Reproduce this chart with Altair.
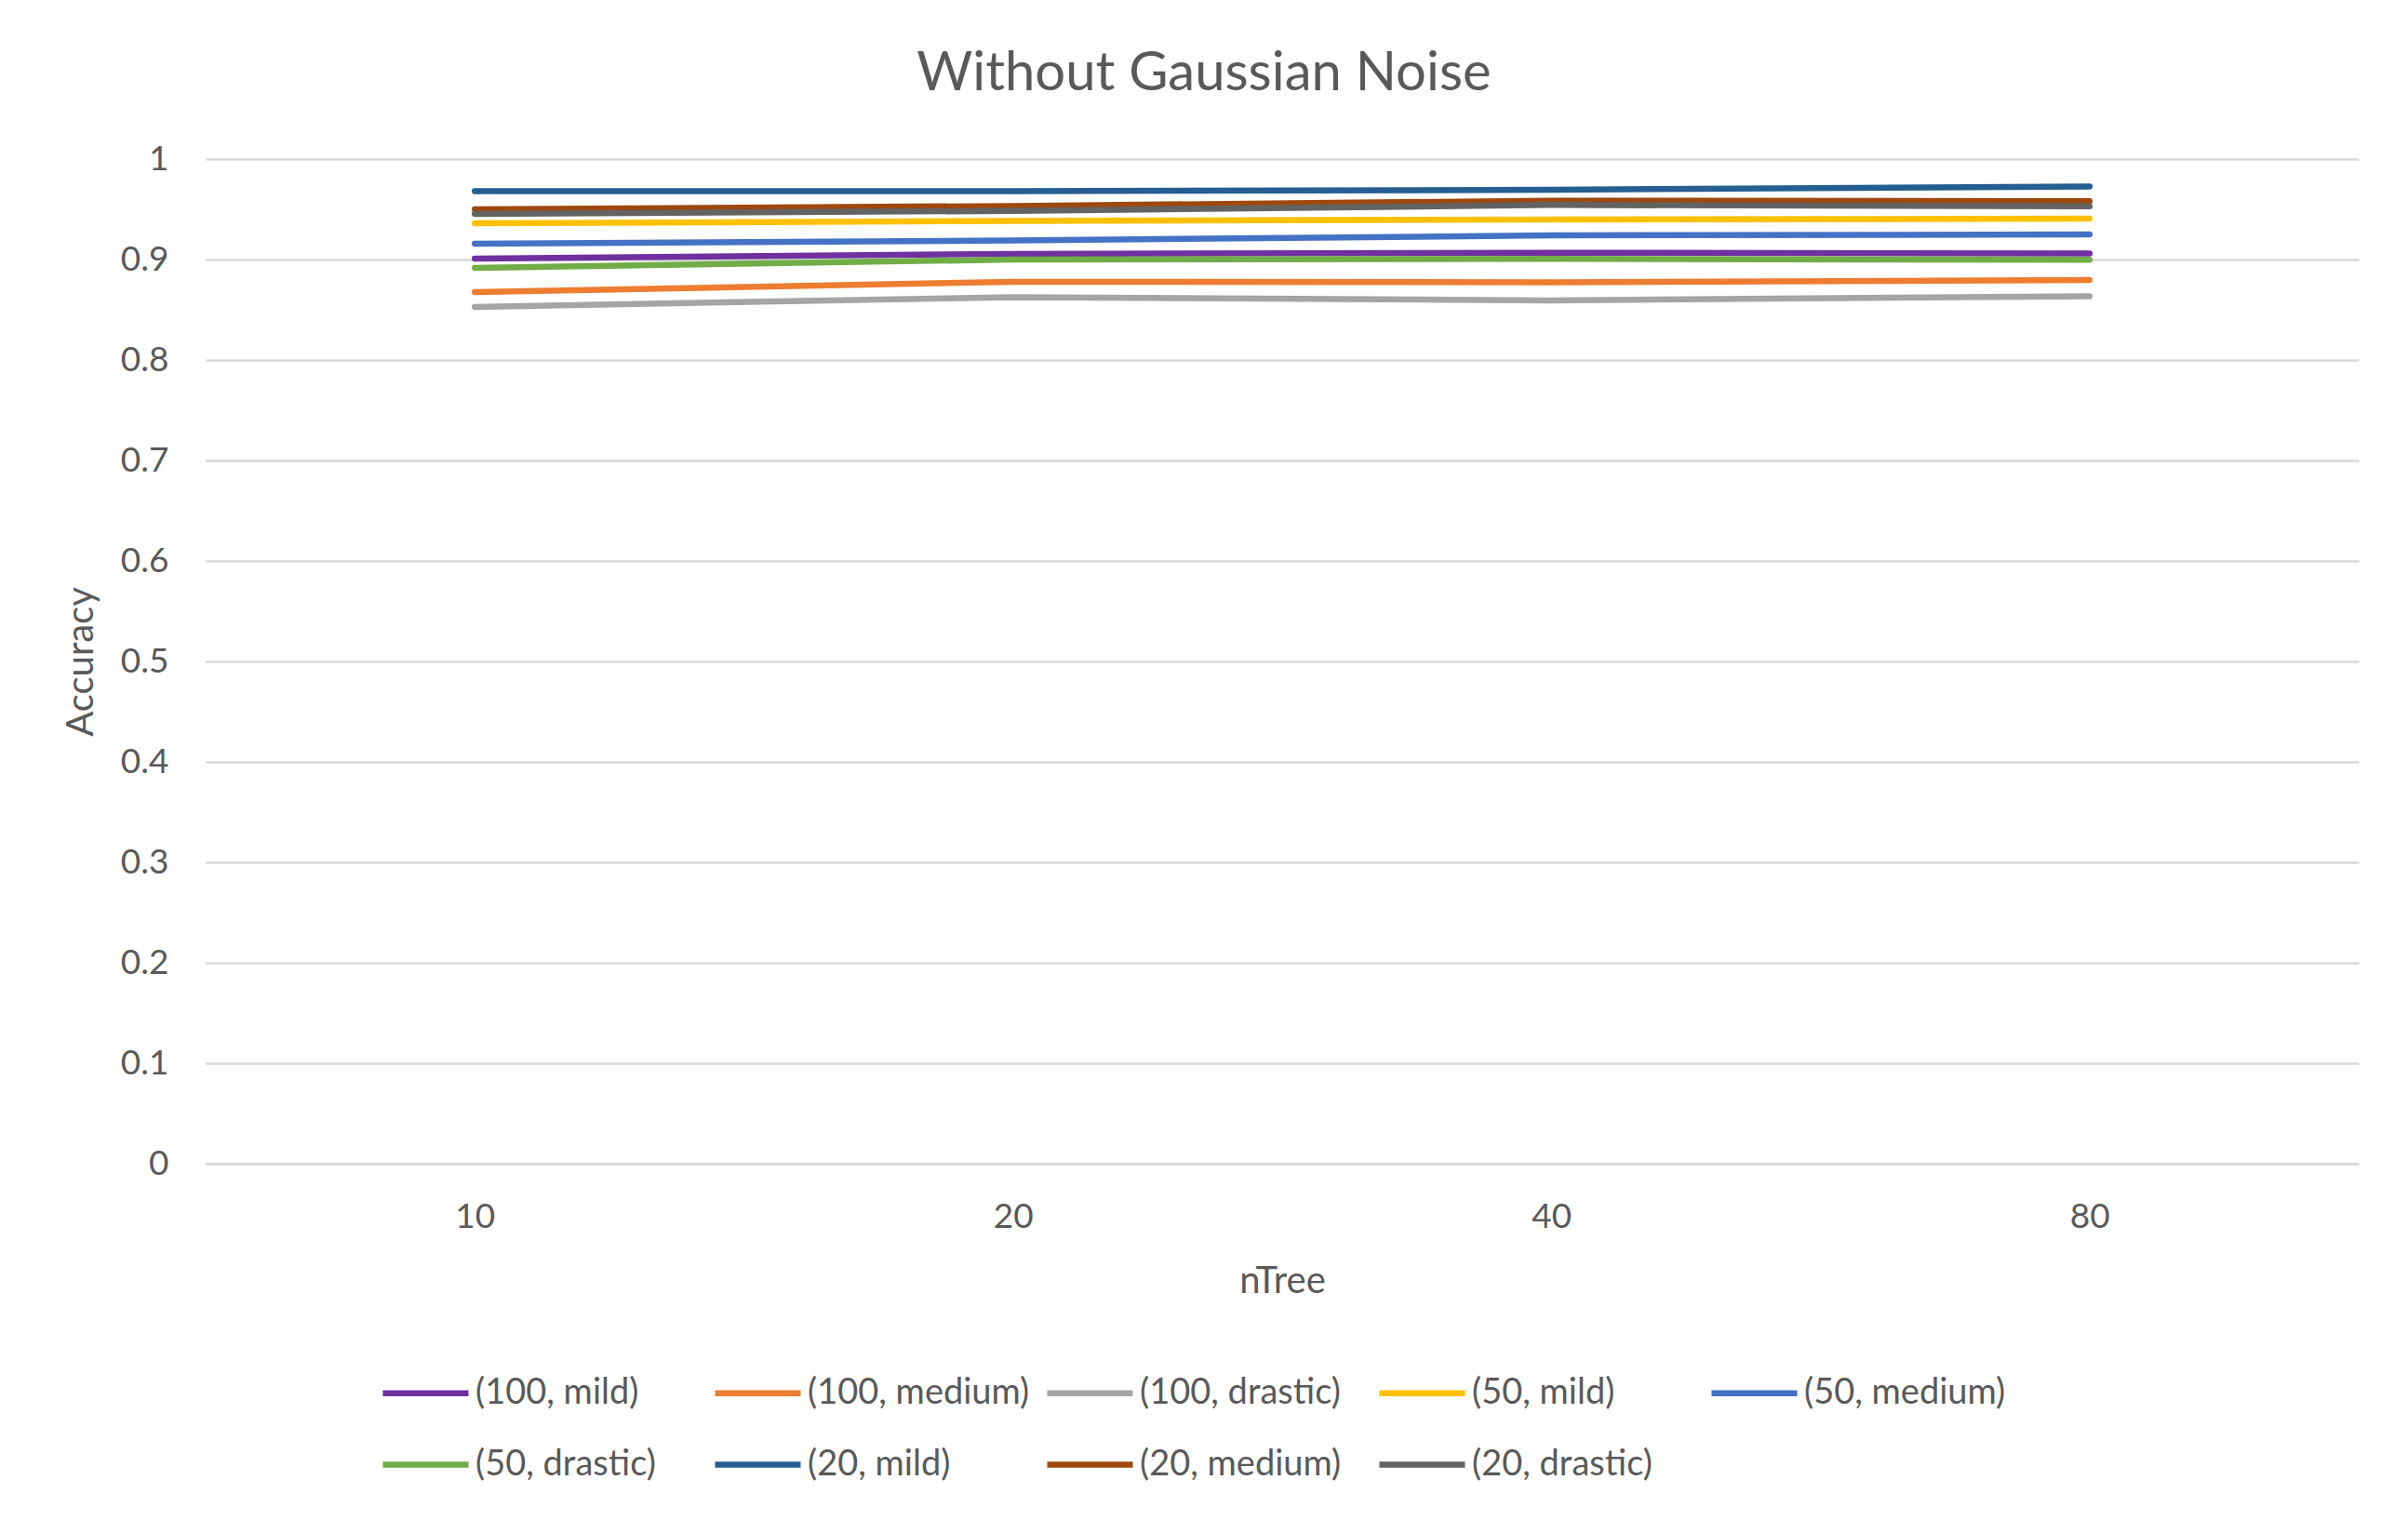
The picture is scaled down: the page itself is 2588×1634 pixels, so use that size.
import altair as alt
import pandas as pd

n_tree = ["10", "20", "40", "80"]
series = ["(100, mild)", "(100, medium)", "(100, drastic)", "(50, mild)", "(50, medium)",
          "(50, drastic)", "(20, mild)", "(20, medium)", "(20, drastic)"]
colors = ["#7030A0", "#ED7D31", "#A5A5A5", "#FFC000", "#4472C4",
          "#70AD47", "#255E91", "#9E480E", "#636363"]

acc_100_mild = [0.901, 0.9056, 0.9068, 0.906]
acc_100_medium = [0.8676, 0.8778, 0.8774, 0.8796]
acc_100_drastic = [0.8528, 0.8626, 0.8593, 0.8635]
acc_50_mild = [0.936, 0.9385, 0.9398, 0.9407]
acc_50_medium = [0.9157, 0.919, 0.924, 0.925]
acc_50_drastic = [0.8917, 0.900, 0.9006, 0.8997]
acc_20_mild = [0.968, 0.968, 0.9694, 0.9728]
acc_20_medium = [0.950, 0.9533, 0.9586, 0.958]
acc_20_drastic = [0.9454, 0.9484, 0.9543, 0.953]

values = [acc_100_mild, acc_100_medium, acc_100_drastic, acc_50_mild, acc_50_medium,
          acc_50_drastic, acc_20_mild, acc_20_medium, acc_20_drastic]

rows = []
for i, (name, vals) in enumerate(zip(series, values)):
    for t, v in zip(n_tree, vals):
        rows.append({"nTree": t, "Accuracy": v, "series": name, "order": i})
df = pd.DataFrame(rows)

FONT = "Lato"
TXT = "#595959"
GRID = "#D9D9D9"

chart = alt.Chart(df).mark_line(strokeWidth=6.5, strokeCap="round", strokeJoin="round").encode(
    x=alt.X("nTree:O", sort=n_tree, scale=alt.Scale(type="point", padding=0.5),
            axis=alt.Axis(title="nTree", labelAngle=0, ticks=False, domainColor=GRID,
                          domainWidth=2.5, labelPadding=39, titlePadding=31,
                          labelFontSize=37, titleFontSize=40)),
    y=alt.Y("Accuracy:Q", scale=alt.Scale(domain=[0, 1], nice=False),
            axis=alt.Axis(title="Accuracy", values=[i / 10 for i in range(11)], format="~g",
                          ticks=False, domain=False, gridColor=GRID, gridWidth=2.5,
                          labelPadding=40, titlePadding=22,
                          labelFontSize=37, titleFontSize=40)),
    color=alt.Color("series:N", sort=series,
                    scale=alt.Scale(domain=series, range=colors),
                    legend=alt.Legend(title=None, orient="none", legendX=187, legendY=1277,
                                      direction="horizontal",
                                      columns=5, gridAlign="all", symbolType="stroke",
                                      symbolSize=8464, symbolStrokeWidth=6.5,
                                      labelFontSize=38, labelOffset=4, labelLimit=500,
                                      columnPadding=5, rowPadding=8)),
    order=alt.Order("order:Q"),
).properties(
    width=2314, height=1080,
    title=alt.TitleParams("Without Gaussian Noise", fontSize=58, font=FONT, color=TXT,
                          fontWeight="normal", offset=43, dx=-84),
    autosize=alt.AutoSizeParams(type="none"),
    padding={"left": 213, "top": 163, "right": 45, "bottom": 375},
).configure(
    font=FONT,
    background="white",
).configure_view(
    stroke=None,
).configure_axis(
    labelColor=TXT, titleColor=TXT, labelFont=FONT, titleFont=FONT,
    titleFontWeight="normal",
).configure_legend(
    labelColor=TXT, labelFont=FONT,
)

chart.save("out.html", embed_options={"renderer": "svg", "actions": False})
